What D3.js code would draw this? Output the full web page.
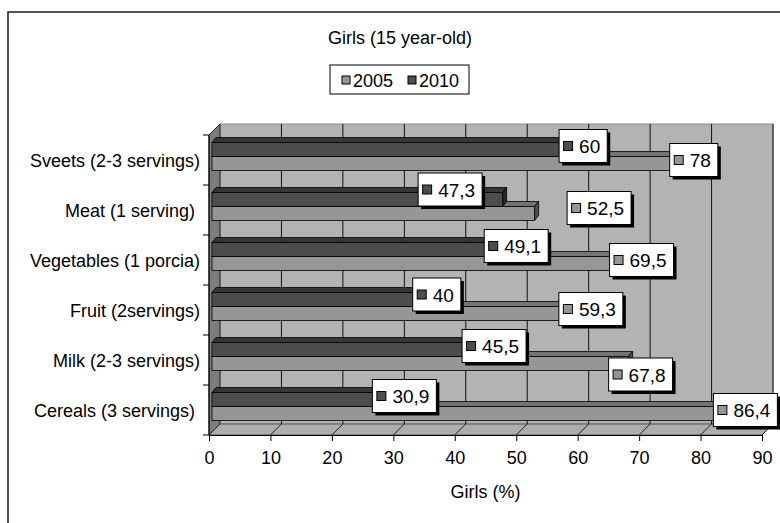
<!DOCTYPE html>
<html>
<head>
<meta charset="utf-8">
<script src="https://cdn.jsdelivr.net/npm/d3@7"></script>
<style>
  body { margin: 0; background: #fff; }
  svg { display: block; font-family: Arial, 'Liberation Sans', sans-serif; }
  text { white-space: pre; }
</style>
</head>
<body>
<div id="root"></div>
<script>
// data
const categories = ['Sveets (2-3 servings)', 'Meat (1 serving) ', 'Vegetables (1 porcia)', 'Fruit (2servings)', 'Milk (2-3 servings)', 'Cereals (3 servings) ']
const values2005 = [78, 52.5, 69.5, 59.3, 67.8, 86.4]
const values2010 = [60, 47.3, 49.1, 40, 45.5, 30.9]
const seriesNames = ['2005', '2010']
const xTickValues = [0, 10, 20, 30, 40, 50, 60, 70, 80, 90]

const dimensions = {
  width: 780,
  height: 523,
  margin: { top: 135, right: 18, bottom: 88, left: 209 }
}
const depth = { dx: 11, dy: -11 } // wall depth
const barDepth = { dx: 4, dy: -5 }
const barH = 14
const fontSize = 18

const colors = {
  2005: { front: '#969696', top: '#747474', side: '#4f4f4f' },
  2010: { front: '#4d4d4d', top: '#363636', side: '#262626' }
}

// some labels were dragged away from the bar end in the original
const labelNudge = {
  'Meat (1 serving) |2010': [-55, -6.5],
  'Meat (1 serving) |2005': [62, -2],
  'Fruit (2servings)|2010': [-23.5, -1.5],
  'Fruit (2servings)|2005': [12, -1],
  'Milk (2-3 servings)|2005': [9.5, 14.5]
}

const fmt = v => String(v).replace('.', ',')

const svg = d3.select('#root').append('svg')
  .attr('width', dimensions.width)
  .attr('height', dimensions.height)

// chart frame, runs off the picture at right and bottom
svg.append('rect')
  .attr('x', 8).attr('y', 12)
  .attr('width', 820).attr('height', 600)
  .attr('fill', 'none')
  .attr('stroke', '#2a2a2a')
  .attr('stroke-width', 1.6)

const x = d3.scaleLinear()
  .domain([0, 90])
  .range([dimensions.margin.left, dimensions.width - dimensions.margin.right])
const y = d3.scaleBand()
  .domain(categories)
  .range([dimensions.margin.top, dimensions.height - dimensions.margin.bottom])
const ySeries = d3.scaleBand()
  .domain(['2010', '2005'])
  .range([7.5, 7.5 + 2 * barH])

const x0 = x(0)
const x1 = x(90)
const yTop = y.range()[0]
const yBot = y.range()[1]

//
const walls = svg.append('g').attr('class', 'walls')
walls.append('rect')
  .attr('x', x0 + depth.dx).attr('y', yTop + depth.dy)
  .attr('width', x1 - x0).attr('height', yBot - yTop)
  .attr('fill', '#b3b3b3')
  .attr('stroke', '#8a8a8a')
walls.append('polygon')
  .attr('points', [[x0, yTop], [x0 + depth.dx, yTop + depth.dy], [x0 + depth.dx, yBot + depth.dy], [x0, yBot]].join(' '))
  .attr('fill', '#7d7d7d')
  .attr('stroke', '#222')
walls.append('polygon')
  .attr('points', [[x0, yBot], [x1, yBot], [x1 + depth.dx, yBot + depth.dy], [x0 + depth.dx, yBot + depth.dy]].join(' '))
  .attr('fill', '#adadad')
  .attr('stroke', '#555')

// gridlines on back wall + floor diagonals
walls.selectAll('.grid')
  .data(xTickValues.slice(1))
  .join('line')
  .attr('class', 'grid')
  .attr('x1', d => x(d) + depth.dx).attr('x2', d => x(d) + depth.dx)
  .attr('y1', yTop + depth.dy).attr('y2', yBot + depth.dy)
  .attr('stroke', '#111')
walls.selectAll('.diag')
  .data(xTickValues)
  .join('line')
  .attr('class', 'diag')
  .attr('x1', d => x(d)).attr('y1', yBot)
  .attr('x2', d => x(d) + depth.dx).attr('y2', yBot + depth.dy)
  .attr('stroke', '#222')

// bars
const barData = []
categories.forEach((c, i) => {
  barData.push({ cat: c, series: '2005', value: values2005[i] })
  barData.push({ cat: c, series: '2010', value: values2010[i] })
})
const geo = d => {
  const xs = x(0) + 3
  const xe = x(d.value) + 3
  const yt = y(d.cat) + ySeries(d.series)
  return { xs, xe, yt, yb: yt + barH }
}

const bars = svg.append('g').attr('class', 'bars')
  .selectAll('g')
  .data(barData)
  .join('g')
bars.append('polygon')
  .attr('points', d => {
    const g = geo(d)
    return [[g.xs, g.yt], [g.xe, g.yt], [g.xe + barDepth.dx, g.yt + barDepth.dy], [g.xs + barDepth.dx, g.yt + barDepth.dy]].join(' ')
  })
  .attr('fill', d => colors[d.series].top)
  .attr('stroke', '#000').attr('stroke-width', 0.8)
bars.append('polygon')
  .attr('points', d => {
    const g = geo(d)
    return [[g.xe, g.yt], [g.xe + barDepth.dx, g.yt + barDepth.dy], [g.xe + barDepth.dx, g.yb + barDepth.dy], [g.xe, g.yb]].join(' ')
  })
  .attr('fill', d => colors[d.series].side)
  .attr('stroke', '#000').attr('stroke-width', 0.8)
bars.append('rect')
  .attr('x', d => geo(d).xs)
  .attr('y', d => geo(d).yt)
  .attr('width', d => geo(d).xe - geo(d).xs)
  .attr('height', barH)
  .attr('fill', d => colors[d.series].front)
  .attr('stroke', '#000').attr('stroke-width', 0.8)

// x axis
const xAxis = svg.append('g')
  .attr('transform', `translate(0, ${yBot})`)
  .call(d3.axisBottom(x).tickValues(xTickValues).tickSize(6).tickSizeOuter(0).tickPadding(10))
xAxis.selectAll('text')
  .attr('font-size', fontSize)
  .attr('font-family', 'Arial, Liberation Sans, sans-serif')
  .attr('fill', '#000')
xAxis.select('.domain').attr('stroke', '#000')
xAxis.selectAll('line').attr('stroke', '#000')

svg.append('text')
  .text('Girls (%)')
  .attr('x', x(45))
  .attr('y', 498)
  .attr('font-size', fontSize)
  .attr('text-anchor', 'middle')

// y axis (ticks on band boundaries)
svg.append('line')
  .attr('x1', x0).attr('x2', x0)
  .attr('y1', yTop).attr('y2', yBot)
  .attr('stroke', '#000')
svg.selectAll('.ytick')
  .data(categories.map(c => y(c)).concat([yBot]))
  .join('line')
  .attr('class', 'ytick')
  .attr('x1', x0 - 6).attr('x2', x0)
  .attr('y1', d => d).attr('y2', d => d)
  .attr('stroke', '#000')
svg.selectAll('.ylabel')
  .data(categories)
  .join('text')
  .attr('class', 'ylabel')
  .text(d => d)
  .attr('x', 200)
  .attr('y', d => y(d) + 26)
  .attr('dy', '0.35em')
  .attr('font-size', fontSize)
  .attr('text-anchor', 'end')

// data labels
const labels = svg.append('g').attr('class', 'labels')
  .selectAll('g')
  .data(barData)
  .join('g')
  .attr('transform', d => {
    const g = geo(d)
    const n = labelNudge[d.cat + '|' + d.series] || [0, 0]
    return `translate(${g.xe + 2.5 + n[0]}, ${g.yt + 3.5 + n[1]})`
  })
labels.each(function (d) {
  const sel = d3.select(this)
  const t = sel.append('text')
    .text(fmt(d.value))
    .attr('font-size', 19)
  const tw = t.node().getComputedTextLength()
  const w = tw + 27
  const h = 33
  t.remove()
  sel.append('rect')
    .attr('x', -w / 2 + 3).attr('y', -h / 2 + 3)
    .attr('width', w).attr('height', h)
    .attr('fill', '#000')
  sel.append('rect')
    .attr('x', -w / 2).attr('y', -h / 2)
    .attr('width', w).attr('height', h)
    .attr('fill', '#fff')
    .attr('stroke', '#000')
  sel.append('rect')
    .attr('x', -w / 2 + 4.5).attr('y', -4.5)
    .attr('width', 9).attr('height', 9)
    .attr('fill', colors[d.series].front)
    .attr('stroke', '#000')
  sel.append('text')
    .text(fmt(d.value))
    .attr('x', -w / 2 + 20)
    .attr('y', 7)
    .attr('font-size', 19)
})

// title + legend
svg.append('text')
  .text('Girls (15 year-old)')
  .attr('x', 400)
  .attr('y', 38)
  .attr('dy', '0.35em')
  .attr('font-size', fontSize)
  .attr('text-anchor', 'middle')

const legend = svg.append('g').attr('transform', 'translate(330, 65)')
legend.append('rect')
  .attr('width', 139).attr('height', 29)
  .attr('fill', '#fff')
  .attr('stroke', '#000')
const legendItems = legend.selectAll('g')
  .data(seriesNames)
  .join('g')
  .attr('transform', (d, i) => `translate(${12 + i * 66}, 0)`)
legendItems.append('rect')
  .attr('y', 11).attr('width', 8).attr('height', 8)
  .attr('fill', d => colors[d].front)
  .attr('stroke', '#000')
legendItems.append('text')
  .text(d => d)
  .attr('x', 11)
  .attr('y', 15.5)
  .attr('dy', '0.35em')
  .attr('font-size', fontSize)
</script>
</body>
</html>
